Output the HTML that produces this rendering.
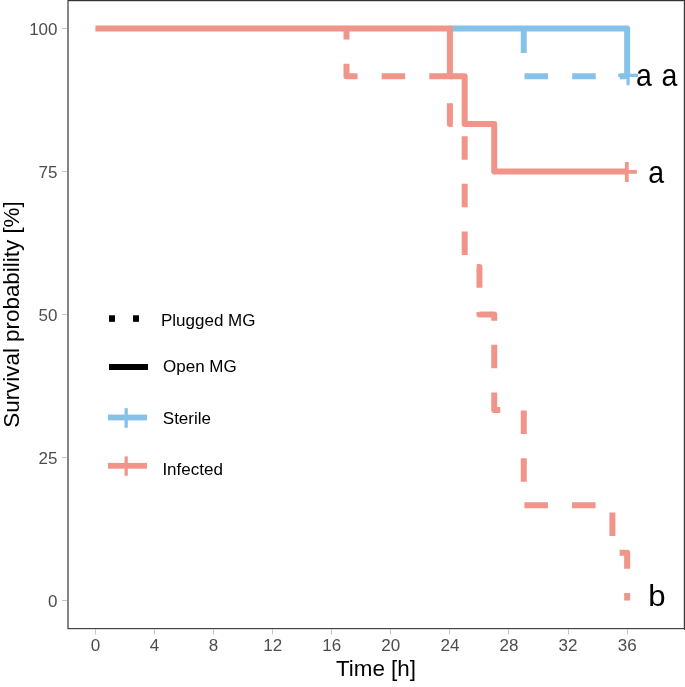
<!DOCTYPE html>
<html><head><meta charset="utf-8"><style>
html,body{margin:0;padding:0;background:#fff;}
body{width:685px;height:687px;overflow:hidden;font-family:"Liberation Sans",sans-serif;}
svg{display:block;will-change:transform;font-family:"Liberation Sans",sans-serif;}
</style></head><body>
<svg width="685" height="687" viewBox="0 0 685 687">
<rect x="69" y="1" width="615" height="1" fill="#d4d4d4"/>
<rect x="683" y="0" width="1" height="629" fill="#d6d6d6"/>
<rect x="67" y="629" width="618" height="1" fill="#dadada"/>
<rect x="67" y="0" width="2" height="629" fill="#858585"/>
<rect x="68" y="0" width="617" height="1" fill="#333"/>
<rect x="684" y="0" width="1" height="630" fill="#3b3b3b"/>
<rect x="68" y="628" width="617" height="1" fill="#444"/>
<rect x="62" y="600" width="5" height="1" fill="#c4c4c4"/>
<text x="57.5" y="600.5" dy="0.36em" text-anchor="end" font-size="17" fill="#4D4D4D">0</text>
<rect x="62" y="457" width="5" height="1" fill="#c4c4c4"/>
<text x="57.5" y="457.52" dy="0.36em" text-anchor="end" font-size="17" fill="#4D4D4D">25</text>
<rect x="62" y="314" width="5" height="1" fill="#c4c4c4"/>
<text x="57.5" y="314.55" dy="0.36em" text-anchor="end" font-size="17" fill="#4D4D4D">50</text>
<rect x="62" y="171" width="5" height="1" fill="#c4c4c4"/>
<text x="57.5" y="171.57" dy="0.36em" text-anchor="end" font-size="17" fill="#4D4D4D">75</text>
<rect x="62" y="28" width="5" height="1" fill="#c4c4c4"/>
<text x="57.5" y="28.6" dy="0.36em" text-anchor="end" font-size="17" fill="#4D4D4D">100</text>
<rect x="95" y="629" width="1" height="5.5" fill="#c4c4c4"/>
<text x="95.4" y="650.7" text-anchor="middle" font-size="17" fill="#4D4D4D">0</text>
<rect x="154" y="629" width="1" height="5.5" fill="#c4c4c4"/>
<text x="154.48" y="650.7" text-anchor="middle" font-size="17" fill="#4D4D4D">4</text>
<rect x="213" y="629" width="1" height="5.5" fill="#c4c4c4"/>
<text x="213.57" y="650.7" text-anchor="middle" font-size="17" fill="#4D4D4D">8</text>
<rect x="272" y="629" width="1" height="5.5" fill="#c4c4c4"/>
<text x="272.65" y="650.7" text-anchor="middle" font-size="17" fill="#4D4D4D">12</text>
<rect x="331" y="629" width="1" height="5.5" fill="#c4c4c4"/>
<text x="331.74" y="650.7" text-anchor="middle" font-size="17" fill="#4D4D4D">16</text>
<rect x="390" y="629" width="1" height="5.5" fill="#c4c4c4"/>
<text x="390.82" y="650.7" text-anchor="middle" font-size="17" fill="#4D4D4D">20</text>
<rect x="449" y="629" width="1" height="5.5" fill="#c4c4c4"/>
<text x="449.9" y="650.7" text-anchor="middle" font-size="17" fill="#4D4D4D">24</text>
<rect x="508" y="629" width="1" height="5.5" fill="#c4c4c4"/>
<text x="508.99" y="650.7" text-anchor="middle" font-size="17" fill="#4D4D4D">28</text>
<rect x="568" y="629" width="1" height="5.5" fill="#c4c4c4"/>
<text x="568.07" y="650.7" text-anchor="middle" font-size="17" fill="#4D4D4D">32</text>
<rect x="627" y="629" width="1" height="5.5" fill="#c4c4c4"/>
<text x="627.16" y="650.7" text-anchor="middle" font-size="17" fill="#4D4D4D">36</text>
<text x="376" y="675.7" text-anchor="middle" font-size="22.4" fill="#000">Time [h]</text>
<text transform="translate(19.2 314.5) rotate(-90)" x="0" y="0" text-anchor="middle" font-size="22.4" fill="#000">Survival probability [%]</text>
<g fill="none" stroke-width="6.0" stroke-linejoin="round" stroke-linecap="butt">
<path d="M523.76 28.6 V76.24 H627.16" stroke="#85C1E9" stroke-dasharray="23.5 24.14" stroke-dashoffset="46.82"/>
<path d="M449.9 28.6 H627.16 V76.24" stroke="#85C1E9"/>
<path d="M346.51 28.6 V76.24 H449.9 V123.94 H464.68 V266.91 H479.45 V314.55 H494.22 V409.89 H523.76 V505.16 H612.38 V552.86 H627.16 V600.5" stroke="#F1948A" stroke-dasharray="23.5 24.14" stroke-dashoffset="12.49"/>
<path d="M95.4 28.6 H449.9 V76.24 H464.68 V123.94 H494.22 V171.57 H627.16" stroke="#F1948A"/>
</g>
<path d="M618.2 75.4 H638.0 M628.1 65.5 V85.30000000000001" stroke="#85C1E9" stroke-width="3.2" fill="none"/>
<path d="M616.75 171.95 H636.8499999999999 M626.8 161.89999999999998 V182.0" stroke="#F1948A" stroke-width="3.8" fill="none"/>
<text transform="translate(636 85.9) scale(0.95 1.06)" font-size="30" fill="#000">a</text>
<text transform="translate(661.4 85.9) scale(0.95 1.06)" font-size="30" fill="#000">a</text>
<text transform="translate(648.3 183.2) scale(0.95 1.06)" font-size="30" fill="#000">a</text>
<text transform="translate(648.2 606) scale(1.04 1.0)" font-size="30" fill="#000">b</text>
<rect x="109" y="315.3" width="6" height="6.5" fill="#000"/>
<rect x="133" y="315.3" width="6" height="6.5" fill="#000"/>
<rect x="109" y="364" width="39" height="6" fill="#000"/>
<rect x="108" y="414.6" width="39" height="5.8" fill="#85C1E9"/>
<rect x="124.5" y="408.2" width="3.3" height="19.6" fill="#85C1E9"/>
<rect x="108" y="462.9" width="39" height="5.8" fill="#F1948A"/>
<rect x="124.5" y="456.4" width="3.3" height="19.3" fill="#F1948A"/>
<text x="161" y="325.5" font-size="17" fill="#000">Plugged MG</text>
<text x="163" y="372" font-size="17" fill="#000">Open MG</text>
<text x="162.8" y="424.2" font-size="17" fill="#000">Sterile</text>
<text x="162.4" y="474.9" font-size="17" fill="#000">Infected</text>
</svg>
</body></html>
